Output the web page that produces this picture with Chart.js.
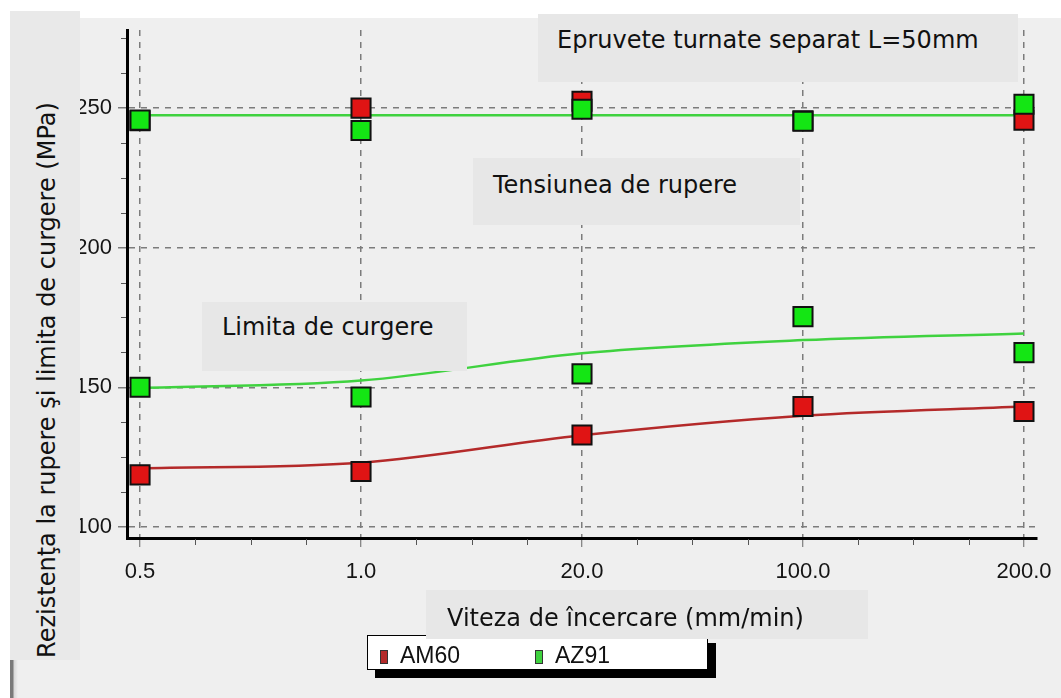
<!DOCTYPE html>
<html lang="ro">
<head>
<meta charset="utf-8">
<title>Rezistenţa la rupere şi limita de curgere</title>
<script src="https://cdn.jsdelivr.net/npm/chart.js@4.4.1/dist/chart.umd.min.js"></script>
<style>
  html, body { margin: 0; padding: 0; background: #fff; }
  #page { position: relative; width: 1061px; height: 698px; overflow: hidden; font-family: "DejaVu Sans", sans-serif; }
  #panel { position: absolute; left: 10px; top: 18px; right: 0; bottom: 0; background: #efefef; }
  #wrap { position: absolute; left: 0; top: 0; width: 1061px; height: 698px; }
  .box { position: absolute; background: #e7e7e7; }
  .box span { position: absolute; font-size: 24px; line-height: 28px; color: #111; white-space: nowrap; }
  #ytitle { left: 10px; top: 11px; width: 70px; height: 649px; background: #e9e9e9; }
  #ytitle span { left: 37px; top: 369px; transform: translate(-50%, -50%) rotate(-90deg); }
  #edge { position: absolute; left: 10px; top: 660px; width: 8px; height: 38px;
          background: linear-gradient(to right, #7a7a7a 0, #7a7a7a 3px, #d8d8d8 4px, #efefef 8px); }
  #legend { position: absolute; left: 367px; top: 635px; width: 339px; height: 33px; background: #fff;
            border: 1px solid #000; box-shadow: 8px 8px 0 #000; font-family: "Liberation Sans", sans-serif; }
  #legend .item { position: absolute; top: 6px; font-size: 23px; line-height: 26px; color: #111; white-space: nowrap; }
  #legend .swatch { display: inline-block; width: 6px; height: 12px; border: 1px solid #333; margin-right: 12px; vertical-align: -1px; }
</style>
</head>
<body>
<div id="page">
  <div id="panel"></div>
  <div id="wrap"><canvas id="grafic"></canvas></div>
  <div id="legend"></div>
  <div class="box" id="ytitle"><span>Rezistenţa la rupere şi limita de curgere (MPa)</span></div>
  <div id="edge"></div>
  <div class="box" style="left:538px;top:14px;width:480px;height:68px"><span style="left:19px;top:12px">Epruvete turnate separat L=50mm</span></div>
  <div class="box" style="left:473px;top:158px;width:327px;height:67px"><span style="left:20px;top:13px">Tensiunea de rupere</span></div>
  <div class="box" style="left:202px;top:302px;width:265px;height:69px"><span style="left:20px;top:11px">Limita de curgere</span></div>
  <div class="box" style="left:426px;top:590px;width:442px;height:49px"><span style="left:21px;top:14px">Viteza de încercare (mm/min)</span></div>
</div>

<script>
// viteze de incercare (categorii pe axa x) si diviziuni pe axa y
const viteze = ['0.5', '1.0', '20.0', '100.0', '200.0'];
const yTicks = [100, 150, 200, 250];

// tensiunea de rupere (MPa)
const am60Rupere = [245.5, 250, 252.5, 245.5, 245.7];
const az91Rupere = [245.7, 242, 249.6, 245.3, 251.4];

// limita de curgere (MPa)
const am60Curgere = [118.6, 119.8, 132.9, 143.1, 141.3];
const az91Curgere = [150, 146.5, 154.8, 175.3, 162.4];

// curbe de tendinta
const az91RupereFit = [247.5, 247.5, 247.5, 247.5, 247.5];
const az91CurgereFit = [149.7, 152.4, 162.2, 166.9, 169.3];
const am60CurgereFit = [121, 123, 132.8, 139.8, 143.1];

const aliaje = ['AM60', 'AZ91'];
const culori = { AM60: '#e01414', AZ91: '#14e614' };
const culoriLinie = { AM60: '#b42a2a', AZ91: '#3fd23f' };

Chart.defaults.font.family = '"Liberation Sans", Arial, sans-serif';

const puncte = vals => vals.map((v, i) => ({ x: i, y: v }));

function serieMarcaj(aliaj, vals, order) {
  return {
    label: aliaj,
    data: puncte(vals),
    showLine: false,
    pointStyle: 'rect',
    pointRadius: 13.5,
    pointBorderWidth: 2,
    pointBorderColor: '#111',
    pointBackgroundColor: culori[aliaj],
    clip: false,
    order
  };
}

function serieTendinta(aliaj, vals, order) {
  return {
    label: aliaj + ' tendinta',
    data: puncte(vals),
    borderColor: culoriLinie[aliaj],
    borderWidth: 2.5,
    pointRadius: 0,
    cubicInterpolationMode: 'monotone',
    clip: false,
    order
  };
}

// diviziuni secundare pe axe (mici semne langa axa)
const diviziuniMici = {
  id: 'diviziuniMici',
  afterDraw(chart) {
    const { ctx, chartArea: a, scales: { x, y } } = chart;
    ctx.save();
    ctx.strokeStyle = '#555';
    ctx.lineWidth = 1;
    ctx.beginPath();
    for (let v = 112.5; v <= y.max; v += 12.5) {
      if (v % 50 === 0) continue;
      const py = Math.round(y.getPixelForValue(v)) + 0.5;
      ctx.moveTo(a.left - 6, py);
      ctx.lineTo(a.left - 1, py);
    }
    for (let i = 0; i < viteze.length - 1; i++) {
      for (const f of [0.25, 0.5, 0.75]) {
        const px = Math.round(x.getPixelForValue(i + f)) + 0.5;
        ctx.moveTo(px, a.bottom + 1);
        ctx.lineTo(px, a.bottom + 7);
      }
    }
    ctx.stroke();
    ctx.restore();
  }
};

const grafic = new Chart(document.getElementById('grafic'), {
  type: 'line',
  data: {
    datasets: [
      serieMarcaj('AZ91', az91Rupere, 0),
      serieMarcaj('AZ91', az91Curgere, 1),
      serieMarcaj('AM60', am60Rupere, 2),
      serieMarcaj('AM60', am60Curgere, 3),
      serieTendinta('AZ91', az91RupereFit, 4),
      serieTendinta('AZ91', az91CurgereFit, 5),
      serieTendinta('AM60', am60CurgereFit, 6)
    ]
  },
  options: {
    responsive: true,
    maintainAspectRatio: false,
    animation: false,
    layout: { padding: { top: 30, right: 24, left: 0, bottom: 0 } },
    plugins: { legend: { display: false }, tooltip: { enabled: false } },
    scales: {
      x: {
        type: 'linear',
        min: -0.059,
        max: 4.059,
        afterBuildTicks: s => { s.ticks = viteze.map((_, i) => ({ value: i })); },
        afterFit: s => { s.height = 160; s.paddingLeft = 0; s.paddingRight = 0; },
        ticks: {
          callback: v => viteze[v],
          padding: 12,
          color: '#151515',
          font: { size: 22 },
          maxRotation: 0
        },
        grid: { color: '#7c7c7c', lineWidth: 1.5, tickLength: 9, tickColor: '#666', tickWidth: 1 },
        border: { display: true, color: '#000', width: 3, dash: [6, 6] }
      },
      y: {
        min: 96,
        max: 278,
        afterBuildTicks: s => { s.ticks = yTicks.map(v => ({ value: v })); },
        afterFit: s => { s.width = 127; s.paddingTop = 0; s.paddingBottom = 0; },
        ticks: { padding: 6, color: '#151515', font: { size: 22 } },
        grid: { color: '#7c7c7c', lineWidth: 1.5, tickLength: 9, tickColor: '#7c7c7c', tickWidth: 1.5 },
        border: { display: true, color: '#000', width: 3, dash: [6, 6] }
      }
    }
  },
  plugins: [diviziuniMici]
});

// legenda: un marcaj mic si numele aliajului
const legenda = document.getElementById('legend');
const pozitii = [12, 167];
aliaje.forEach((a, i) => {
  const el = document.createElement('div');
  el.className = 'item';
  el.style.left = pozitii[i] + 'px';
  el.innerHTML = `<span class="swatch" style="background:${culoriLinie[a]}"></span>${a}`;
  legenda.appendChild(el);
});
</script>
</body>
</html>
